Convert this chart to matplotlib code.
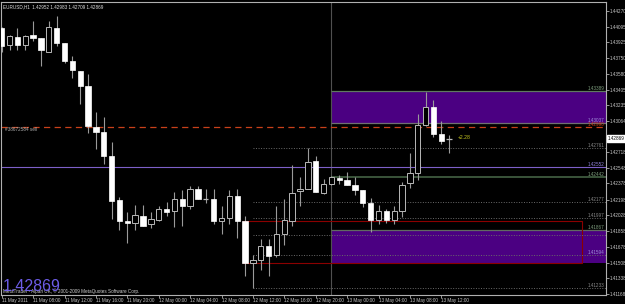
import matplotlib
matplotlib.use("Agg")
import matplotlib.pyplot as plt
from matplotlib import font_manager
from matplotlib.patches import Rectangle
from matplotlib.transforms import blended_transform_factory

# EURUSD H1 candles, 11 May 2011 04:00 -> 13 May 2011 13:00
opens = [1.44081, 1.43893, 1.43983, 1.43893, 1.44002, 1.43965, 1.43816, 1.44078, 1.43910, 1.43718,
         1.43609, 1.43445, 1.42998, 1.42943, 1.42674, 1.42191, 1.41968, 1.41943, 1.42016, 1.41929,
         1.41979, 1.42099, 1.42071, 1.42202, 1.42125, 1.42317, 1.42208, 1.42208, 1.41965, 1.42001,
         1.42238, 1.41965, 1.41510, 1.41543, 1.41689, 1.41591, 1.41820, 1.41965, 1.42289, 1.42317,
         1.42627, 1.42274, 1.42372, 1.42437, 1.42409, 1.42361, 1.42300, 1.42164, 1.41972, 1.42071,
         1.41979, 1.42071, 1.42383, 1.42492, 1.43015, 1.43216, 1.42917, 1.42869]
highs = [1.44089, 1.44002, 1.44081, 1.44002, 1.44154, 1.43965, 1.44154, 1.44209, 1.43910, 1.43773,
         1.43609, 1.43572, 1.43154, 1.43110, 1.42834, 1.42227, 1.42063, 1.42136, 1.42136, 1.42063,
         1.42128, 1.42172, 1.42281, 1.42300, 1.42354, 1.42347, 1.42311, 1.42311, 1.42128, 1.42300,
         1.42317, 1.42016, 1.41591, 1.41765, 1.41765, 1.42128, 1.42208, 1.42583, 1.42445, 1.42761,
         1.42682, 1.42420, 1.42463, 1.42474, 1.42499, 1.42445, 1.42300, 1.42216, 1.42143, 1.42092,
         1.42128, 1.42390, 1.42707, 1.43135, 1.43380, 1.43293, 1.43063, 1.42906]
lows = [1.43819, 1.43838, 1.43838, 1.43838, 1.43936, 1.43663, 1.43816, 1.43882, 1.43692, 1.43536,
        1.43245, 1.42928, 1.42754, 1.42590, 1.41990, 1.41863, 1.41728, 1.41863, 1.41910, 1.41888,
        1.41965, 1.42019, 1.41899, 1.41910, 1.42099, 1.42208, 1.42161, 1.41935, 1.41826, 1.41935,
        1.41779, 1.41365, 1.41233, 1.41427, 1.41365, 1.41572, 1.41706, 1.41910, 1.42128, 1.42317,
        1.42281, 1.42256, 1.42361, 1.42372, 1.42361, 1.42252, 1.42118, 1.41845, 1.41935, 1.41946,
        1.41929, 1.42008, 1.42328, 1.42409, 1.43001, 1.42881, 1.42808, 1.42709]
closes = [1.43882, 1.43991, 1.43893, 1.43991, 1.43969, 1.43834, 1.44089, 1.43918, 1.43718, 1.43615,
          1.43445, 1.43001, 1.42943, 1.42674, 1.42183, 1.41965, 1.41943, 1.42027, 1.41910, 1.41983,
          1.42099, 1.42063, 1.42202, 1.42128, 1.42317, 1.42208, 1.42208, 1.41965, 1.42001, 1.42238,
          1.41965, 1.41510, 1.41536, 1.41689, 1.41583, 1.41820, 1.41972, 1.42274, 1.42317, 1.42616,
          1.42281, 1.42372, 1.42445, 1.42409, 1.42361, 1.42300, 1.42164, 1.41972, 1.42071, 1.41979,
          1.42071, 1.42365, 1.42492, 1.43015, 1.43216, 1.42917, 1.42845, 1.42869]

time_ticks = [0, 4, 8, 12, 16, 20, 24, 28, 32, 36, 40, 44, 48, 52, 56]
time_labels = ["11 May 2011", "11 May 08:00", "11 May 12:00", "11 May 16:00", "11 May 20:00",
               "12 May 00:00", "12 May 04:00", "12 May 08:00", "12 May 12:00", "12 May 16:00",
               "12 May 20:00", "13 May 00:00", "13 May 04:00", "13 May 08:00", "13 May 12:00"]
# 1.42893 sits under the current price box, so it is left out
price_ticks = [1.44270, 1.44095, 1.43925, 1.43750, 1.43580, 1.43405, 1.43235, 1.43064,
               1.42718, 1.42548, 1.42378, 1.42198, 1.42028, 1.41858, 1.41678, 1.41508, 1.41338, 1.41168]

last_price = 1.42869
ohlc_title = "EURUSD,H1  1.42952 1.42983 1.42709 1.42869"

# chart objects
sell_price = 1.42990
sell_label = "#38672584 sell"
purple_line = 1.42552
green_line = 1.42442
upper_zone = (1.43037, 1.43389)
lower_zone = (1.41510, 1.41867)
red_box = (1.41510, 1.41965)
fib_low = 1.41233
fib_high = 1.42761
fib_levels = [0.0, 0.236, 0.382, 0.5, 0.618, 1.0]
profit_text = "+2.28"

names = {f.name for f in font_manager.fontManager.ttflist}
small_font = "Liberation Sans Narrow" if "Liberation Sans Narrow" in names else "Liberation Sans"
plt.rcParams["font.family"] = [small_font, "DejaVu Sans"]

BG = "#000000"
FG = "#c8c8c8"
FS = 3.3

fig = plt.figure(figsize=(6.25, 3.04), dpi=100)
fig.patch.set_facecolor(BG)
ax = fig.add_axes([1 / 625, 9.5 / 304, 605 / 625, 293 / 304])
ax.set_facecolor(BG)

bar_px = 7.85
ax.set_xlim((1 - 1.7) / bar_px, (606 - 1.7) / bar_px)
ax.set_ylim(1.41160, 1.44370)
xmax = ax.get_xlim()[1]

# zones and boxes
zone_start = 42
for lo, hi in [upper_zone, lower_zone]:
    ax.add_patch(Rectangle((zone_start, lo), xmax - zone_start + 1, hi - lo,
                           facecolor="#4b0082", edgecolor="none", zorder=1))
ax.hlines(upper_zone[1], zone_start, xmax, color="#5f7a5f", lw=0.9, zorder=2)
ax.hlines(upper_zone[0], zone_start, xmax, color="#707070", lw=0.9, zorder=2)
ax.hlines(lower_zone[1], zone_start, xmax, color="#606a60", lw=0.9, zorder=2)
ax.add_patch(Rectangle((30.8, red_box[0]), 73.9 - 30.8, red_box[1] - red_box[0],
                       facecolor="none", edgecolor="#8b0000", lw=0.8, zorder=2))

# vertical separator
ax.axvline(zone_start, color="#505050", lw=0.8, zorder=1.5)

# fibo levels
fib_start = 32
fib_prices = [fib_low + (fib_high - fib_low) * lv for lv in fib_levels]
for p in fib_prices:
    ax.hlines(p, fib_start, xmax, color="#6a6a6a", lw=0.7, linestyles=(0, (1, 1.6)), zorder=2)

# horizontal lines
ax.axhline(sell_price, color="#c8401a", lw=0.9, linestyle=(0, (5, 3.5)), zorder=2)
ax.axhline(purple_line, color="#7d5fc8", lw=0.8, zorder=2)
ax.hlines(green_line, zone_start, xmax, color="#4a6a4a", lw=1.1, zorder=2)

# candles
x = list(range(len(opens)))
wick_c = "#9a9a9a"
ax.vlines(x, lows, highs, color=wick_c, lw=0.8, zorder=3)
w = 0.68
for i in x:
    o, c = opens[i], closes[i]
    if c > o:
        ax.bar(i, c - o, w, bottom=o, facecolor=BG, edgecolor="#b8b8b8", lw=0.7, zorder=4)
    elif c < o:
        ax.bar(i, o - c, w, bottom=c, facecolor="white", edgecolor="white", lw=0.5, zorder=4)
    else:
        ax.hlines(o, i - w / 2, i + w / 2, color="#b8b8b8", lw=0.9, zorder=4)

# right-side object labels
lab_x = xmax - 0.2
obj_labels = [
    (upper_zone[1], "#7f9f7f"), (upper_zone[0], "#a090d8"), (sell_price, "#c8401a"),
    (purple_line, "#9080d8"), (green_line, "#7f9f7f"), (lower_zone[1], "#7f9f7f"),
]
for p, col in obj_labels:
    ax.text(lab_x, p, f"{p:.5f}", color=col, fontsize=FS, ha="right", va="bottom", zorder=6)
for lv, p in zip(fib_levels, fib_prices):
    if lv == 0.382:
        continue
    col = "#a090d8" if lower_zone[0] < p < lower_zone[1] else "#8a8a8a"
    ax.text(lab_x, p, f"{p:.5f}", color=col, fontsize=FS, ha="right", va="bottom", zorder=6)

ax.text(0.4, sell_price, sell_label, color="#b0b0b0", fontsize=FS, ha="left", va="top", zorder=6)
ax.text(len(opens) + 0.1, last_price + 0.00012, profit_text, color="#c8c820",
        fontsize=FS + 0.4, ha="left", va="center", zorder=6)

# axes styling
for s in ax.spines.values():
    s.set_color("#b0b0b0")
    s.set_linewidth(0.8)

ax.yaxis.tick_right()
ax.set_yticks(price_ticks)
ax.set_yticklabels([f"{p:.5f}" for p in price_ticks])
ax.tick_params(axis="y", colors="#b0b0b0", labelcolor=FG, labelsize=FS, length=2, width=0.6, pad=0.5)
ax.set_xticks(time_ticks)
ax.set_xticklabels(time_labels)
ax.tick_params(axis="x", colors="#b0b0b0", labelcolor=FG, labelsize=FS, length=2, width=0.6, pad=0.6)
for lbl in ax.get_xticklabels():
    lbl.set_horizontalalignment("left")

# current price box on the price scale
ax.text(1.003, last_price, f"{last_price:.5f}", transform=blended_transform_factory(ax.transAxes, ax.transData),
        color="black", fontsize=FS, ha="left", va="center", clip_on=False, zorder=10,
        bbox=dict(facecolor="white", edgecolor="white", pad=0.5))

# header and footer texts
ax.text(0.004, 0.992, ohlc_title, transform=ax.transAxes, color="#e0e0e0", fontsize=FS,
        ha="left", va="top")
fig.text(3 / 625, 1 - 291 / 304, "MetaTrader - Alpari UK, \u00a9 2001-2009 MetaQuotes Software Corp.",
         color="#d0d0d0", fontsize=FS, ha="left", va="center")
fig.text(2.5 / 625, 1 - 291 / 304, f"{last_price:.5f}", color="#6c5ce7", fontsize=11.5,
         family="Liberation Sans", ha="left", va="baseline")

fig.savefig("out.png", dpi=100, facecolor=BG)
